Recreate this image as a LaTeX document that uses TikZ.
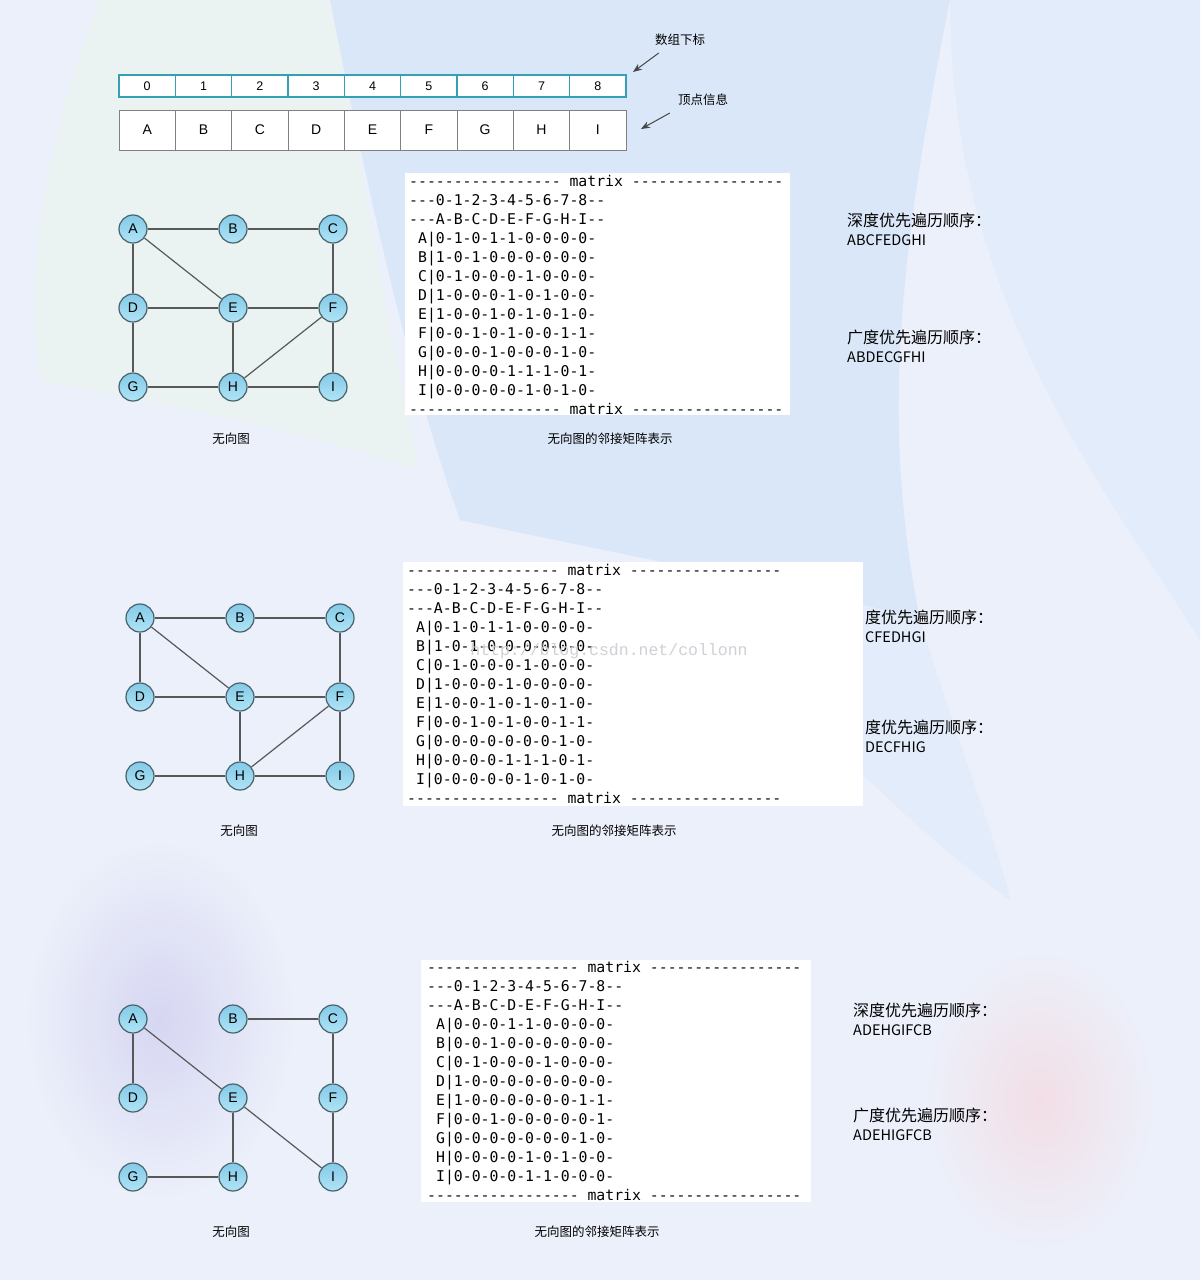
\documentclass[tikz,border=0pt]{standalone}
\usepackage{fontspec}
\setmainfont{Liberation Sans}
\setmonofont{DejaVu Sans Mono}
\newfontfamily\cjk{Noto Sans CJK SC}
\newfontfamily\wmfont{Liberation Mono}
\usetikzlibrary{arrows.meta}

\definecolor{bgbase}{RGB}{236,240,250}
\definecolor{bgblue}{RGB}{218,231,248}
\definecolor{bglite}{RGB}{226,236,250}
\definecolor{bggreen}{RGB}{234,243,242}
\definecolor{vtxline}{RGB}{72,98,108}
\definecolor{vtxtop}{RGB}{132,202,232}
\definecolor{vtxbot}{RGB}{176,228,246}
\definecolor{linkgray}{RGB}{88,88,88}
\definecolor{idxline}{RGB}{52,160,178}
\definecolor{valline}{RGB}{128,128,128}
\definecolor{arrgray}{RGB}{70,70,70}
\definecolor{wmgray}{RGB}{208,208,214}

\tikzset{
  vtx/.style={circle, draw=vtxline, line width=1.2pt, top color=vtxtop, bottom color=vtxbot,
    minimum size=28pt, inner sep=0pt, font=\fontsize{14}{14}\selectfont},
  link/.style={linkgray, line width=1.2pt},
  idxcell/.style={draw=idxline, fill=white, line width=1.1pt, minimum width=56.33pt,
    minimum height=22pt, inner sep=0pt, font=\fontsize{12.5}{12.5}\selectfont},
  valcell/.style={draw=valline, fill=white, line width=1pt, minimum width=56.33pt,
    minimum height=40pt, inner sep=0pt, font=\fontsize{14}{14}\selectfont},
  mtx/.style={anchor=base west, inner sep=0pt, font=\ttfamily\fontsize{14.8}{19}\selectfont},
  captxt/.style={inner sep=0pt, font=\cjk\fontsize{12.5}{12.5}\selectfont},
  order/.style={anchor=west, inner sep=0pt, font=\cjk\fontsize{16}{16}\selectfont},
  seq/.style={anchor=west, inner sep=0pt, font=\cjk\fontsize{14.5}{14.5}\selectfont},
  pointer/.style={-{Stealth[length=9pt,width=7pt]}, arrgray, line width=1pt},
}

\begin{document}
\begin{tikzpicture}[x=1pt, y=-1pt]
\useasboundingbox (0,0) rectangle (1200,1280);
% background
\fill[bgbase] (0,0) rectangle (1200,1280);
\fill[bggreen] (100,0) -- (330,0) .. controls (360,150) and (380,300) .. (420,470)
  .. controls (300,430) and (150,400) .. (40,380) .. controls (20,250) and (60,100) .. (100,0) -- cycle;
\fill[bgblue] (330,0) -- (950,0) .. controls (900,250) and (880,420) .. (920,620)
  .. controls (760,580) and (600,550) .. (460,520) .. controls (400,350) and (360,150) .. (330,0) -- cycle;
\fill[bglite] (950,0) -- (1200,0) -- (1200,640) .. controls (1100,480) and (950,300) .. (950,0) -- cycle;
\fill[bglite] (920,620) .. controls (960,750) and (1000,850) .. (1010,900)
  .. controls (900,820) and (780,700) .. (700,580) .. controls (780,590) and (860,600) .. (920,620) -- cycle;
\shade[inner color={rgb,255:red,214;green,214;blue,242}, outer color=bgbase] (160,1020) ellipse (135pt and 180pt);
\shade[inner color={rgb,255:red,242;green,222;blue,230}, outer color=bgbase] (1040,1100) ellipse (115pt and 150pt);

% arrays
\foreach \i/\l in {0/A,1/B,2/C,3/D,4/E,5/F,6/G,7/H,8/I}{
  \node[idxcell] (idx\i) at ({147.2+56.33*\i},86) {\i};
  \node[valcell] (val\i) at ({147.2+56.33*\i},130) {\l};
}
\node[captxt] (lblidx) at (680,40) {数组下标};
\node[captxt] (lblval) at (703,100) {顶点信息};
\coordinate (idxtip) at (633,72);
\coordinate (valtip) at (641,129);
\draw[pointer] ([xshift=4pt,yshift=-7pt]lblidx.south west) -- (idxtip);
\draw[pointer] ([xshift=-8pt,yshift=-7pt]lblval.south west) -- (valtip);

% graph 1
\foreach \n/\x/\y in {A/0/0,B/1/0,C/2/0,D/0/1,E/1/1,F/2/1,G/0/2,H/1/2,I/2/2}
  \node[vtx] (\n1) at ({133+100*\x},{229+79*\y}) {\n};
\foreach \u/\v in {A/B,B/C,A/D,A/E,C/F,D/E,E/F,D/G,E/H,F/H,F/I,G/H,H/I}
  \draw[link] (\u1) -- (\v1);
\node[captxt] (cap1) at (231,439) {无向图};

\fill[white] (405,173) rectangle (790,415);
\node[mtx] (m1t) at (409,186) {----------------- matrix -----------------};
\node[mtx] (m1h) at (409,205) {---0-1-2-3-4-5-6-7-8--};
\node[mtx] (m1v) at (409,224) {---A-B-C-D-E-F-G-H-I--};
\foreach \r [count=\k] in {A|0-1-0-1-1-0-0-0-0-,B|1-0-1-0-0-0-0-0-0-,C|0-1-0-0-0-1-0-0-0-,
  D|1-0-0-0-1-0-1-0-0-,E|1-0-0-1-0-1-0-1-0-,F|0-0-1-0-1-0-0-1-1-,
  G|0-0-0-1-0-0-0-1-0-,H|0-0-0-0-1-1-1-0-1-,I|0-0-0-0-0-1-0-1-0-}
  \node[mtx] (m1r\k) at (409,{186+19*(\k+2)}) {~\r};
\node[mtx] (m1b) at (409,414) {----------------- matrix -----------------};
\node[captxt] (mcap1) at (610,439) {无向图的邻接矩阵表示};

\node[order] (dfs1) at (847,220) {深度优先遍历顺序：};
\node[seq] (dfsq1) at (847,240) {ABCFEDGHI};
\node[order] (bfs1) at (847,337) {广度优先遍历顺序：};
\node[seq] (bfsq1) at (847,357) {ABDECGFHI};

% graph 2
\foreach \n/\x/\y in {A/0/0,B/1/0,C/2/0,D/0/1,E/1/1,F/2/1,G/0/2,H/1/2,I/2/2}
  \node[vtx] (\n2) at ({140+100*\x},{618+79*\y}) {\n};
\foreach \u/\v in {A/B,B/C,A/D,A/E,C/F,D/E,E/F,E/H,F/H,F/I,G/H,H/I}
  \draw[link] (\u2) -- (\v2);
\node[captxt] (cap2) at (239,831) {无向图};

\node[order] (dfs2) at (865,617) {度优先遍历顺序：};
\node[seq] (dfsq2) at (865,637) {CFEDHGI};
\node[order] (bfs2) at (865,727) {度优先遍历顺序：};
\node[seq] (bfsq2) at (865,747) {DECFHIG};

\fill[white] (403,562) rectangle (863,806);
\node[mtx] (m2t) at (407,575) {----------------- matrix -----------------};
\node[mtx] (m2h) at (407,594) {---0-1-2-3-4-5-6-7-8--};
\node[mtx] (m2v) at (407,613) {---A-B-C-D-E-F-G-H-I--};
\foreach \r [count=\k] in {A|0-1-0-1-1-0-0-0-0-,B|1-0-1-0-0-0-0-0-0-,C|0-1-0-0-0-1-0-0-0-,
  D|1-0-0-0-1-0-0-0-0-,E|1-0-0-1-0-1-0-1-0-,F|0-0-1-0-1-0-0-1-1-,
  G|0-0-0-0-0-0-0-1-0-,H|0-0-0-0-1-1-1-0-1-,I|0-0-0-0-0-1-0-1-0-}
  \node[mtx] (m2r\k) at (407,{575+19*(\k+2)}) {~\r};
\node[mtx] (m2b) at (407,803) {----------------- matrix -----------------};
\node[text=wmgray, font=\wmfont\fontsize{16.5}{16.5}\selectfont, inner sep=0pt] (wmark) at (609,651) {http://blog.csdn.net/collonn};
\node[captxt] (mcap2) at (614,831) {无向图的邻接矩阵表示};

% graph 3
\foreach \n/\x/\y in {A/0/0,B/1/0,C/2/0,D/0/1,E/1/1,F/2/1,G/0/2,H/1/2,I/2/2}
  \node[vtx] (\n3) at ({133+100*\x},{1019+79*\y}) {\n};
\foreach \u/\v in {A/D,A/E,B/C,C/F,E/H,E/I,F/I,G/H}
  \draw[link] (\u3) -- (\v3);
\node[captxt] (cap3) at (231,1232) {无向图};

\fill[white] (421,960) rectangle (811,1202);
\node[mtx] (m3t) at (427,972) {----------------- matrix -----------------};
\node[mtx] (m3h) at (427,991) {---0-1-2-3-4-5-6-7-8--};
\node[mtx] (m3v) at (427,1010) {---A-B-C-D-E-F-G-H-I--};
\foreach \r [count=\k] in {A|0-0-0-1-1-0-0-0-0-,B|0-0-1-0-0-0-0-0-0-,C|0-1-0-0-0-1-0-0-0-,
  D|1-0-0-0-0-0-0-0-0-,E|1-0-0-0-0-0-0-1-1-,F|0-0-1-0-0-0-0-0-1-,
  G|0-0-0-0-0-0-0-1-0-,H|0-0-0-0-1-0-1-0-0-,I|0-0-0-0-1-1-0-0-0-}
  \node[mtx] (m3r\k) at (427,{972+19*(\k+2)}) {~\r};
\node[mtx] (m3b) at (427,1200) {----------------- matrix -----------------};
\node[captxt] (mcap3) at (597,1232) {无向图的邻接矩阵表示};

\node[order] (dfs3) at (853,1010) {深度优先遍历顺序：};
\node[seq] (dfsq3) at (853,1030) {ADEHGIFCB};
\node[order] (bfs3) at (853,1115) {广度优先遍历顺序：};
\node[seq] (bfsq3) at (853,1135) {ADEHIGFCB};
\end{tikzpicture}
\end{document}
